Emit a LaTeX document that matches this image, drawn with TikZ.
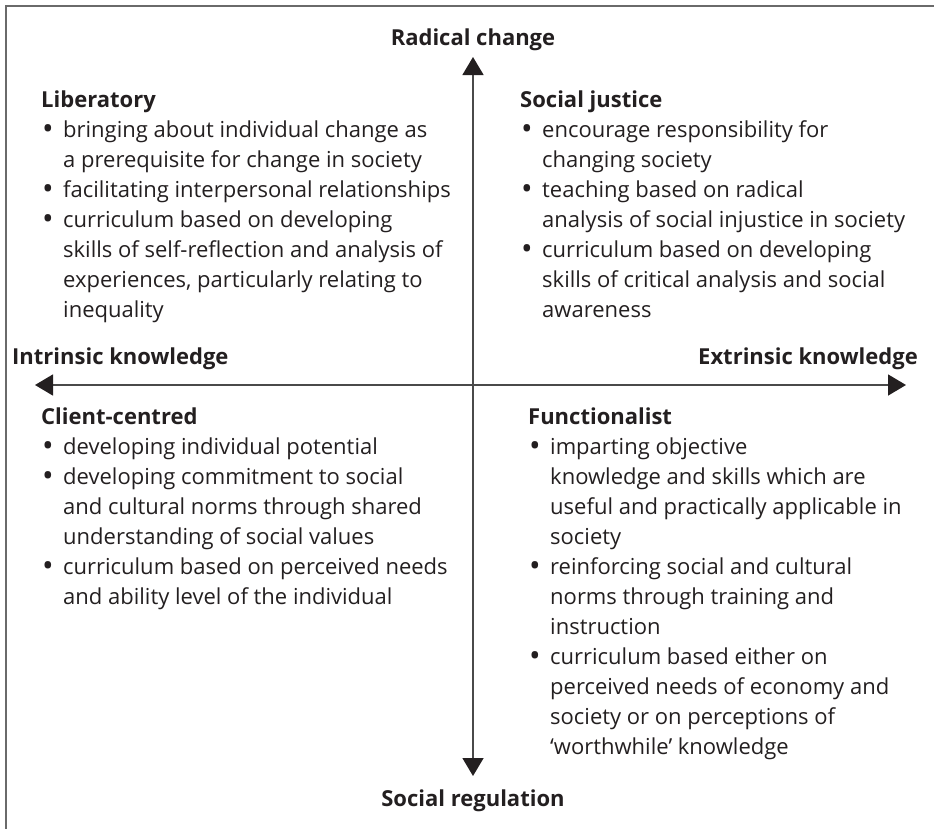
\documentclass[tikz,border=0pt]{standalone}
\usepackage{fontspec}
\setmainfont{Open Sans}
\usetikzlibrary{arrows.meta}
\definecolor{txt}{HTML}{231F20}
\definecolor{frame}{HTML}{6A6A6A}
\definecolor{axis}{HTML}{4A4A4A}
\newcommand{\bul}{\makebox[22pt][l]{\hspace{1pt}\raisebox{-0.1em}{\scalebox{1.4}{•}}}}
\newcommand{\ind}{\hspace*{22pt}}
\newcommand{\quadtext}[1]{\parbox[t]{430pt}{\fontsize{22}{30}\selectfont #1}}
\tikzset{
  quad/.style={anchor=base west, inner sep=0pt, text=txt},
  axlabel/.style={inner sep=0pt, text=txt, font=\bfseries\fontsize{22}{26}\selectfont},
  axisline/.style={draw=axis, line width=1.5pt,
    {Triangle[length=18pt,width=21pt,color=txt,fill=txt]}-{Triangle[length=18pt,width=21pt,color=txt,fill=txt]}},
  frameline/.style={draw=frame, line width=2pt}
}
\begin{document}
\begin{tikzpicture}[x=1pt,y=-1pt]
\useasboundingbox (0,0) rectangle (934,828);
% frame (left and top edges)
\coordinate (fbl) at (6,829);
\coordinate (ftl) at (6,6);
\coordinate (ftr) at (935,6);
\draw[frameline] (fbl) -- (ftl) -- (ftr);

% axes
\coordinate (vt) at (473,57);
\coordinate (vb) at (473,776);
\coordinate (hl) at (35,385);
\coordinate (hr) at (906,385);
\draw[axisline] (vb) -- (vt);
\draw[axisline] (hl) -- (hr);

% axis labels
\node[axlabel, anchor=base] (rc) at (473,45) {Radical change};
\node[axlabel, anchor=base] (sr) at (473,806) {Social regulation};
\node[axlabel, anchor=base west] (ik) at (12,364) {Intrinsic knowledge};
\node[axlabel, anchor=base east] (ek) at (918,364) {Extrinsic knowledge};

% quadrants
\node[quad] (lib) at (41,107) {\quadtext{\textbf{Liberatory}\\
\bul bringing about individual change as\\
\ind a prerequisite for change in society\\
\bul facilitating interpersonal relationships\\
\bul curriculum based on developing\\
\ind skills of self-reflection and analysis of\\
\ind experiences, particularly relating to\\
\ind inequality}};

\node[quad] (sj) at (520,107) {\quadtext{\textbf{Social justice}\\
\bul encourage responsibility for\\
\ind changing society\\
\bul teaching based on radical\\
\ind analysis of social injustice in society\\
\bul curriculum based on developing\\
\ind skills of critical analysis and social\\
\ind awareness}};

\node[quad] (cc) at (41,424) {\quadtext{\textbf{Client-centred}\\
\bul developing individual potential\\
\bul developing commitment to social\\
\ind and cultural norms through shared\\
\ind understanding of social values\\
\bul curriculum based on perceived needs\\
\ind and ability level of the individual}};

\node[quad] (fn) at (528,424) {\quadtext{\textbf{Functionalist}\\
\bul imparting objective\\
\ind knowledge and skills which are\\
\ind useful and practically applicable in\\
\ind society\\
\bul reinforcing social and cultural\\
\ind norms through training and\\
\ind instruction\\
\bul curriculum based either on\\
\ind perceived needs of economy and\\
\ind society or on perceptions of\\
\ind ‘worthwhile’ knowledge}};
\end{tikzpicture}
\end{document}
